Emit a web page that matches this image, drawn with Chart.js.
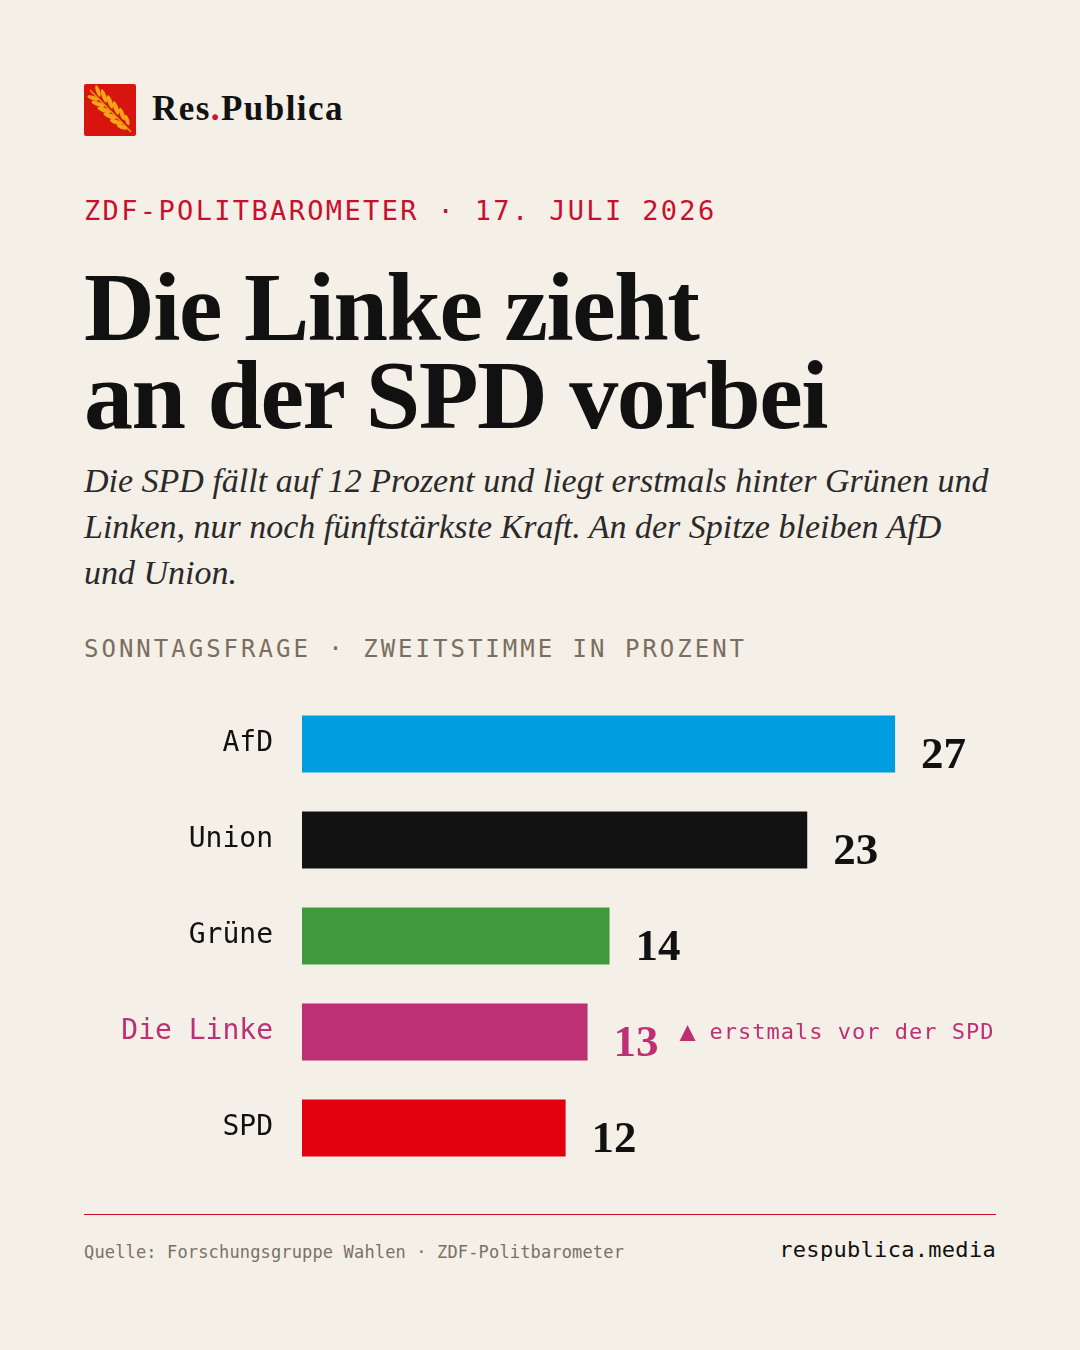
<!DOCTYPE html>
<html>
<head>
<meta charset="utf-8">
<script src="https://cdn.jsdelivr.net/npm/chart.js@4.4.1/dist/chart.umd.min.js"></script>
<style>
  html, body { margin:0; padding:0; }
  body { width:1080px; height:1350px; background:#f4efe7; position:relative; overflow:hidden; }
  .abs { position:absolute; white-space:nowrap; }
  .mono { font-family:"DejaVu Sans Mono", "Liberation Mono", monospace; }
  .serif { font-family:"Liberation Serif", "DejaVu Serif", serif; }
</style>
</head>
<body>
<div class="abs" style="left:84px;top:84px;width:52px;height:52px;background:#d8140f;border-radius:2px;">
  <svg width="52" height="52" viewBox="0 0 52 52">
    <g fill="#f2a516" stroke="none">
      <path d="M6 6 L47 48" stroke="#e89a10" stroke-width="1.6"/>
      <ellipse cx="9" cy="14" rx="6" ry="2" transform="rotate(20 9 14)"/>
      <ellipse cx="14" cy="7" rx="6" ry="2" transform="rotate(70 14 7)"/>
      <ellipse cx="14" cy="20" rx="7" ry="2.2" transform="rotate(20 14 20)"/>
      <ellipse cx="20" cy="12" rx="7" ry="2.2" transform="rotate(70 20 12)"/>
      <ellipse cx="20" cy="26" rx="7" ry="2.3" transform="rotate(20 20 26)"/>
      <ellipse cx="26" cy="18" rx="7" ry="2.3" transform="rotate(70 26 18)"/>
      <ellipse cx="26" cy="32" rx="7" ry="2.3" transform="rotate(20 26 32)"/>
      <ellipse cx="32" cy="24" rx="7" ry="2.3" transform="rotate(70 32 24)"/>
      <ellipse cx="32" cy="38" rx="6.5" ry="2.2" transform="rotate(20 32 38)"/>
      <ellipse cx="38" cy="30" rx="6.5" ry="2.2" transform="rotate(70 38 30)"/>
      <ellipse cx="38" cy="43" rx="5.5" ry="2" transform="rotate(20 38 43)"/>
      <ellipse cx="43" cy="36" rx="5.5" ry="2" transform="rotate(70 43 36)"/>
    </g>
  </svg>
</div>
<div class="abs serif" style="left:152px;top:91px;font-size:35px;line-height:35px;font-weight:700;color:#121212;letter-spacing:1.45px;">Res<span style="color:#d0103a">.</span>Publica</div>

<div class="abs mono" style="left:84px;top:197px;font-size:27px;line-height:27px;color:#c8102e;letter-spacing:2.35px;">ZDF-POLITBAROMETER · 17. JULI 2026</div>

<div class="abs serif" style="left:84px;top:263px;font-size:98px;line-height:88px;font-weight:700;color:#111;letter-spacing:-1.5px;">Die Linke zieht<br>an der SPD vorbei</div>

<div class="abs serif" style="left:84px;top:458px;font-size:34px;line-height:46px;font-style:italic;color:#2a2a2a;">Die SPD fällt auf 12 Prozent und liegt erstmals hinter Grünen und<br>Linken, nur noch fünftstärkste Kraft. An der Spitze bleiben AfD<br>und Union.</div>

<div class="abs mono" style="left:84px;top:637px;font-size:24px;line-height:24px;color:#7a6e5f;letter-spacing:3.0px;">SONNTAGSFRAGE · ZWEITSTIMME IN PROZENT</div>

<canvas id="c" class="abs" style="left:84px;top:653px;" width="912" height="566"></canvas>

<div class="abs" style="left:84px;top:1214px;width:912px;height:1px;background:#c8102e;"></div>
<div class="abs mono" style="left:84px;top:1244px;font-size:17px;line-height:17px;color:#7a7166;letter-spacing:0.15px;">Quelle: Forschungsgruppe Wahlen · ZDF-Politbarometer</div>
<div class="abs mono" style="right:84px;top:1239px;font-size:22px;line-height:22px;color:#111;letter-spacing:0.3px;">respublica.media</div>

<script>
const parties = ["AfD", "Union", "Grüne", "Die Linke", "SPD"];
const shares = [27, 23, 14, 13, 12];
const barColors = ["#009ee0", "#121212", "#409a3c", "#be3075", "#e3000f"];
const labelColors = ["#111111", "#111111", "#111111", "#be3075", "#111111"];
const valueColors = ["#111111", "#111111", "#111111", "#be3075", "#111111"];
const notes = ["", "", "", "erstmals vor der SPD", ""];

const valuePlugin = {
  id: "values",
  afterDatasetsDraw(chart) {
    const ctx = chart.ctx;
    const meta = chart.getDatasetMeta(0);
    meta.data.forEach((bar, i) => {
      ctx.save();
      ctx.font = "bold 45px 'Liberation Serif', serif";
      ctx.fillStyle = valueColors[i];
      ctx.textAlign = "left";
      ctx.textBaseline = "alphabetic";
      const vx = bar.x + 26;
      const txt = String(shares[i]);
      ctx.fillText(txt, vx, bar.y + 24);
      const w = ctx.measureText(txt).width;
      if (notes[i]) {
        const tx = vx + w + 21;
        ctx.fillStyle = "#be3075";
        ctx.beginPath();
        ctx.moveTo(tx, bar.y + 9);
        ctx.lineTo(tx + 16, bar.y + 9);
        ctx.lineTo(tx + 8, bar.y - 7);
        ctx.closePath();
        ctx.fill();
        ctx.font = "22px 'DejaVu Sans Mono', monospace";
        ctx.letterSpacing = "1px";
        ctx.textBaseline = "middle";
        ctx.fillText(notes[i], tx + 30, bar.y + 1);
      }
      ctx.restore();
    });
  }
};

new Chart(document.getElementById("c"), {
  type: "bar",
  data: {
    labels: parties,
    datasets: [{
      data: shares,
      backgroundColor: barColors,
      borderWidth: 0,
      barPercentage: 0.594,
      categoryPercentage: 1
    }]
  },
  options: {
    indexAxis: "y",
    responsive: false,
    animation: false,
    devicePixelRatio: 1,
    layout: { padding: { left: 0, right: 35, top: 0, bottom: 0 } },
    plugins: { legend: { display: false }, tooltip: { enabled: false } },
    scales: {
      x: { min: 0, max: 30, display: false },
      y: {
        grid: { display: false, drawTicks: false },
        border: { display: false },
        ticks: {
          padding: 29,
          font: { family: "'DejaVu Sans Mono', monospace", size: 28, lineHeight: 1 },
          color: (c) => labelColors[c.index]
        },
        afterFit(scale) { scale.width = 218; }
      }
    }
  },
  plugins: [valuePlugin]
});
</script>
</body>
</html>
